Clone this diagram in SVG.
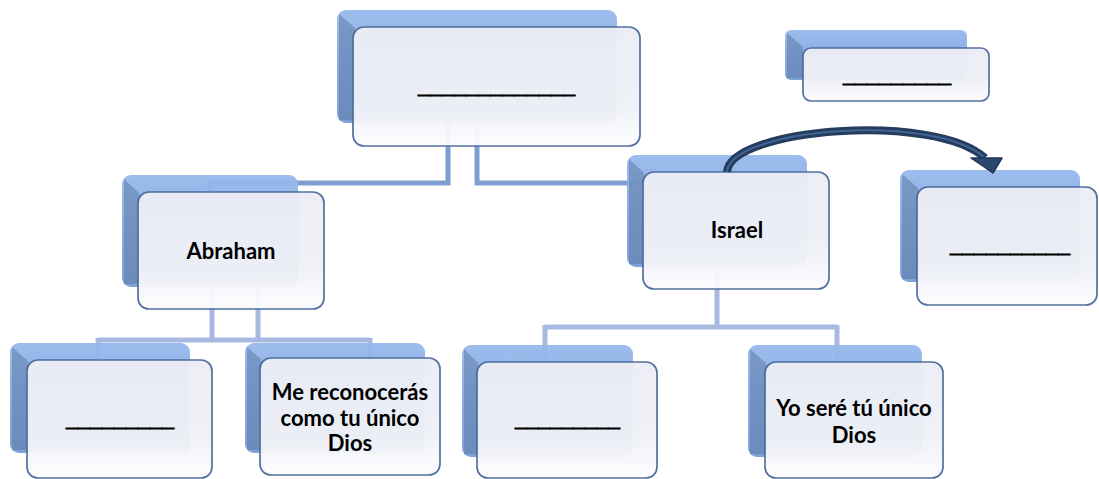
<svg xmlns="http://www.w3.org/2000/svg" width="1099" height="479" viewBox="0 0 1099 479">
<defs>
<linearGradient id="gBack" x1="0" y1="0" x2="0" y2="1">
<stop offset="0" stop-color="#97b9ec"/>
<stop offset="0.5" stop-color="#84a8e0"/>
<stop offset="1" stop-color="#789cd4"/>
</linearGradient>
<linearGradient id="gFront" x1="0" y1="0" x2="0" y2="1">
<stop offset="0" stop-color="#edeef5"/>
<stop offset="0.65" stop-color="#f0f1f7"/>
<stop offset="1" stop-color="#fdfdff"/>
</linearGradient>
</defs>
<style>
.back{fill:url(#gBack);opacity:.95}
.bevel{fill:#57769f;opacity:.5}
.front{fill:url(#gFront);stroke:#4c6b9c;stroke-width:1.7;opacity:.96}
.lbl{font-family:Lato,"Liberation Sans",sans-serif;font-weight:bold;font-size:22px;text-anchor:middle;fill:#000}
.blank{font-family:"Liberation Sans",sans-serif;font-weight:bold;font-size:24px;fill:#000;stroke:#000;stroke-width:0.9}
.c1{fill:none;stroke:#6f93ca;stroke-width:5;opacity:.9}
.c2{fill:none;stroke:#a2b4df;stroke-width:5;opacity:.95}
</style>

<g id="connectors">
<path class="c1" d="M448 123 V183 H210 V200"/>
<path class="c1" d="M477 123 V183 H717 V200"/>
<path class="c2" d="M212 287 V340 M258 287 V340 M98 340 H370 M98 338 V362 M370 338 V360"/>
<path class="c2" d="M717 267 V327 M545 327 H837 M545 325 V364 M837 325 V364"/>
</g>

<g id="node-top">
<rect class="back" x="337" y="10" width="280" height="113" rx="9"/>
<path class="bevel" d="M339 14 L355 28 V120 H339 Z"/>
<rect class="front" x="353" y="27" width="287" height="119" rx="11"/>
<text class="blank" x="418" y="93" textLength="157" lengthAdjust="spacingAndGlyphs">_____________</text>
</g>

<g id="node-topright">
<rect class="back" x="785" y="30" width="182" height="50" rx="6"/>
<path class="bevel" d="M787 33 L803 47 V78 H787 Z"/>
<rect class="front" x="803" y="48" width="186" height="53" rx="8"/>
<text class="blank" x="843" y="82" textLength="108" lengthAdjust="spacingAndGlyphs">_________</text>
</g>

<g id="node-abraham">
<rect class="back" x="122" y="175" width="176" height="112" rx="9"/>
<path class="bevel" d="M124 179 L139 193 V284 H124 Z"/>
<rect class="front" x="138" y="192" width="186" height="117" rx="11"/>
<text class="lbl" x="231" y="259">Abraham</text>
</g>

<g id="node-israel">
<rect class="back" x="627" y="155" width="180" height="112" rx="9"/>
<path class="bevel" d="M629 159 L644 173 V264 H629 Z"/>
<rect class="front" x="643" y="172" width="186" height="117" rx="11"/>
<text class="lbl" x="737" y="238">Israel</text>
</g>

<g id="node-right">
<rect class="back" x="900" y="170" width="180" height="112" rx="9"/>
<path class="bevel" d="M902 174 L918 188 V279 H902 Z"/>
<rect class="front" x="917" y="187" width="180" height="118" rx="11"/>
<text class="blank" x="950" y="252" textLength="120" lengthAdjust="spacingAndGlyphs">__________</text>
</g>

<g id="node-bl">
<rect class="back" x="10" y="343" width="180" height="110" rx="9"/>
<path class="bevel" d="M12 347 L28 361 V450 H12 Z"/>
<rect class="front" x="27" y="360" width="185" height="118" rx="11"/>
<text class="blank" x="66" y="426" textLength="108" lengthAdjust="spacingAndGlyphs">_________</text>
</g>

<g id="node-me">
<rect class="back" x="245" y="343" width="180" height="110" rx="9"/>
<path class="bevel" d="M247 347 L261 359 V450 H247 Z"/>
<rect class="front" x="260" y="358" width="180" height="117" rx="11"/>
<text class="lbl" x="350" y="400">Me reconocerás</text>
<text class="lbl" x="350" y="426">como tu único</text>
<text class="lbl" x="350" y="451">Dios</text>
</g>

<g id="node-bm">
<rect class="back" x="462" y="345" width="171" height="112" rx="9"/>
<path class="bevel" d="M464 349 L478 363 V454 H464 Z"/>
<rect class="front" x="477" y="362" width="180" height="116" rx="11"/>
<text class="blank" x="515" y="426" textLength="105" lengthAdjust="spacingAndGlyphs">_________</text>
</g>

<g id="node-yo">
<rect class="back" x="748" y="345" width="174" height="112" rx="9"/>
<path class="bevel" d="M750 349 L766 363 V454 H750 Z"/>
<rect class="front" x="765" y="362" width="178" height="116" rx="11"/>
<text class="lbl" x="854" y="416">Yo seré tú único</text>
<text class="lbl" x="854" y="443">Dios</text>
</g>

<g id="arrow">
<path d="M727 172 C730 128 935 112 985 158" fill="none" stroke="#243c5e" stroke-width="8"/>
<path d="M727 172 C730 128 935 112 985 158" fill="none" stroke="#557fb8" stroke-width="2" opacity=".6"/>
<polygon points="971,158 1002,158 993,173" fill="#2b4870" stroke="#1f3656" stroke-width="1.5" stroke-linejoin="round"/>
</g>
</svg>
